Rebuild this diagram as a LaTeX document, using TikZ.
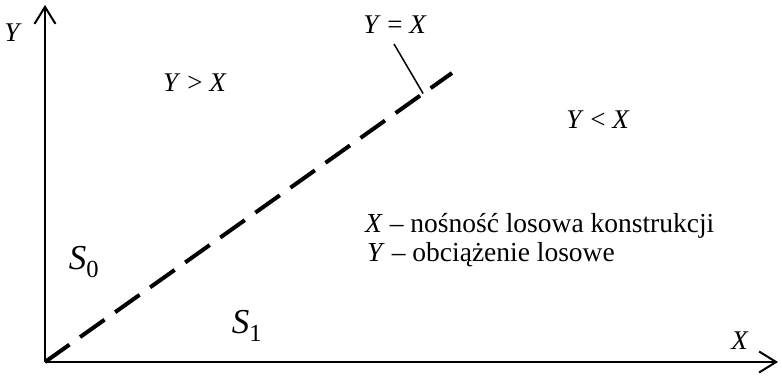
\documentclass[tikz,border=0pt]{standalone}
\usepackage{fontspec}
\setmainfont{Liberation Serif}
\usetikzlibrary{arrows.meta}
\begin{document}
\begin{tikzpicture}[x=1pt,y=-1pt,
  axis/.style={line width=2pt,-{Straight Barb[length=17pt,width=21pt,line width=2pt]}},
  diag/.style={line width=4pt,dash pattern=on 30pt off 13pt},
  lbl/.style={font=\fontsize{27}{30}\selectfont,inner sep=0pt},
  big/.style={font=\fontsize{35}{38}\selectfont,inner sep=0pt},
  legend/.style={font=\fontsize{27.5}{30}\selectfont,inner sep=0pt,anchor=base west}]
\useasboundingbox (0,0) rectangle (782,377);
\coordinate (O) at (45,362);
\coordinate (Ytip) at (45,5);
\coordinate (Xtip) at (778,362);
\coordinate (E) at (452,73);
\draw[axis] (O) -- (Ytip);
\draw[axis] (O) -- (Xtip);
\draw[diag] (O) -- (E) coordinate[pos=0.929] (P);
\node[lbl] (ylab) at (13,33) {\textit{Y}};
\node[lbl] (xlab) at (740,341) {\textit{X}};
\node[lbl] (yeqx) at (395,25) {\textit{Y} = \textit{X}};
\draw[line width=1.5pt] (394,44) coordinate (L) -- (P);
\node[lbl] (ygt) at (195,83) {\textit{Y} > \textit{X}};
\node[lbl] (ylt) at (598,120) {\textit{Y} < \textit{X}};
\node[big] (s0) at (84,262) {\textit{S}\textsubscript{0}};
\node[big] (s1) at (247,326) {\textit{S}\textsubscript{1}};
\node[legend] (l1) at (365,232) {\textit{X} – nośność losowa konstrukcji};
\node[legend] (l2) at (367,261) {\textit{Y} – obciążenie losowe};
\end{tikzpicture}
\end{document}
